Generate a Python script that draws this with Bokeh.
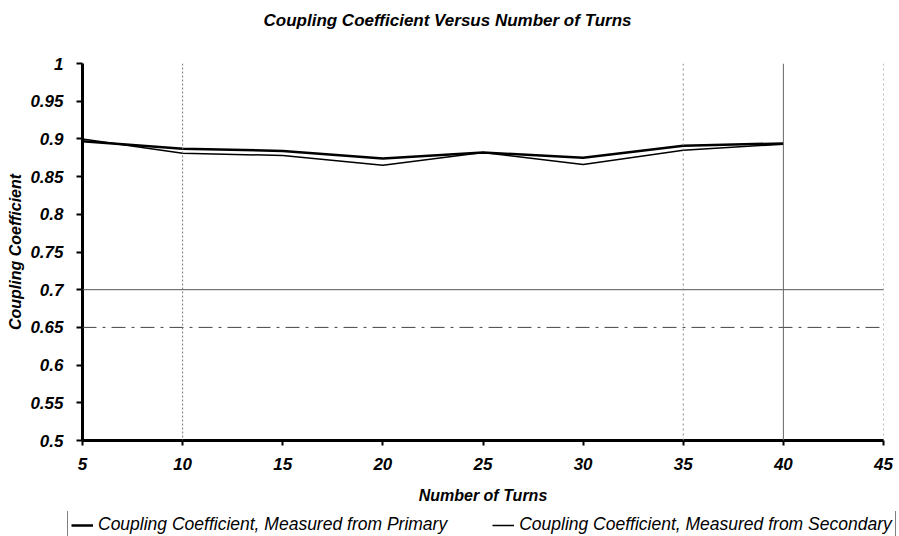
from bokeh.plotting import figure
from bokeh.models import Range1d, Span, Legend, LegendItem, Label, ColumnDataSource, FixedTicker
from bokeh.embed import file_html
from bokeh.resources import INLINE

turns = [5, 10, 15, 20, 25, 30, 35, 40]
k_primary = [0.897, 0.887, 0.884, 0.874, 0.882, 0.875, 0.891, 0.894]
k_secondary = [0.900, 0.881, 0.878, 0.865, 0.882, 0.866, 0.885, 0.893]
x_ticks = [5, 10, 15, 20, 25, 30, 35, 40, 45]
y_ticks = [0.5, 0.55, 0.6, 0.65, 0.7, 0.75, 0.8, 0.85, 0.9, 0.95, 1.0]
y_tick_labels = ["0.5", "0.55", "0.6", "0.65", "0.7", "0.75", "0.8", "0.85", "0.9", "0.95", "1"]
series_names = ["Coupling Coefficient, Measured from Primary",
                "Coupling Coefficient, Measured from Secondary"]
chart_title = "Coupling Coefficient Versus Number of Turns"

FONT = "Liberation Sans"


def bare(fig):
    fig.outline_line_color = None
    fig.xgrid.visible = False
    fig.ygrid.visible = False
    fig.background_fill_color = "white"
    fig.border_fill_color = "white"
    return fig


# ---- title strip
tf = bare(figure(width=899, height=40, output_backend="svg", toolbar_location=None,
                 x_axis_location=None, y_axis_location=None,
                 min_border_left=0, min_border_right=0, min_border_top=0, min_border_bottom=0,
                 x_range=Range1d(0, 1), y_range=Range1d(0, 1)))
tf.add_layout(Label(x=263, y=20, x_units="screen", y_units="screen", text=chart_title,
                    text_font=FONT, text_font_style="bold italic", text_font_size="17px",
                    text_color="black", text_baseline="middle", text_align="left"))

# ---- main chart
p = bare(figure(width=899, height=471, output_backend="svg", toolbar_location=None,
                x_range=Range1d(5, 45), y_range=Range1d(0.5, 1.0),
                min_border_left=82, min_border_right=16, min_border_top=23, min_border_bottom=71))

for ax in (p.xaxis[0], p.yaxis[0]):
    ax.axis_line_width = 3
    ax.axis_line_color = "black"
    ax.major_tick_line_width = 2
    ax.major_tick_line_color = "black"
    ax.major_tick_in = 0
    ax.minor_tick_line_color = None
    ax.major_label_text_font = FONT
    ax.major_label_text_font_style = "bold italic"
    ax.major_label_text_font_size = "17px"
    ax.major_label_text_color = "black"
    ax.axis_label_text_font = FONT
    ax.axis_label_text_font_style = "bold italic"
    ax.axis_label_text_font_size = "16px"
    ax.axis_label_text_color = "black"

p.xaxis.ticker = FixedTicker(ticks=x_ticks)
p.yaxis.ticker = FixedTicker(ticks=y_ticks)
p.xaxis.major_label_overrides = {t: str(t) for t in x_ticks}
p.yaxis.major_label_overrides = dict(zip(y_ticks, y_tick_labels))
p.xaxis.axis_label = "Number of Turns"
p.yaxis.axis_label = "Coupling Coefficient"
p.xaxis.major_tick_out = 5
p.yaxis.major_tick_out = 6
p.xaxis.major_label_standoff = 12
p.yaxis.major_label_standoff = 13
p.xaxis.axis_label_standoff = 14
p.yaxis.axis_label_standoff = 3

# faint scanned grid lines
p.add_layout(Span(location=0.7, dimension="width", line_color="#555555", line_width=1))
p.add_layout(Span(location=0.65, dimension="width", line_color="#444444", line_width=1, line_dash="14 6 3 6"))
p.add_layout(Span(location=10, dimension="height", line_color="#777777", line_width=1, line_dash="2 2"))
p.add_layout(Span(location=35, dimension="height", line_color="#888888", line_width=1, line_dash="2 3"))
p.add_layout(Span(location=40, dimension="height", line_color="#666666", line_width=1))
p.add_layout(Span(location=45, dimension="height", line_color="#777777", line_width=1, line_dash="2 3"))

src = ColumnDataSource(dict(x=turns, kp=k_primary, ks=k_secondary))
p.line("x", "kp", source=src, line_color="black", line_width=2.5)
p.line("x", "ks", source=src, line_color="black", line_width=1.5)

# ---- legend strip (box cut off at the bottom as in the original)
lg = bare(figure(width=899, height=25, output_backend="svg", toolbar_location=None,
                 x_axis_location=None, y_axis_location=None,
                 min_border_left=0, min_border_right=0, min_border_top=0, min_border_bottom=0,
                 x_range=Range1d(5, 45), y_range=Range1d(0.0, 0.1)))
g1 = lg.line("x", "kp", source=src, line_color="black", line_width=2.5)
g2 = lg.line("x", "ks", source=src, line_color="black", line_width=1.5)
legend = Legend(items=[LegendItem(label=series_names[0], renderers=[g1]),
                       LegendItem(label=series_names[1], renderers=[g2])],
                orientation="horizontal", location=(67, -3),
                label_text_font=FONT, label_text_font_style="italic", label_text_font_size="17.5px",
                label_text_color="black", glyph_width=22, glyph_height=20, label_height=20,
                label_standoff=5, spacing=45, padding=3, margin=0,
                border_line_color="black", border_line_width=1, background_fill_alpha=1.0)
lg.add_layout(legend, "center")

open("out.html", "w").write(file_html([tf, p, lg], INLINE))
